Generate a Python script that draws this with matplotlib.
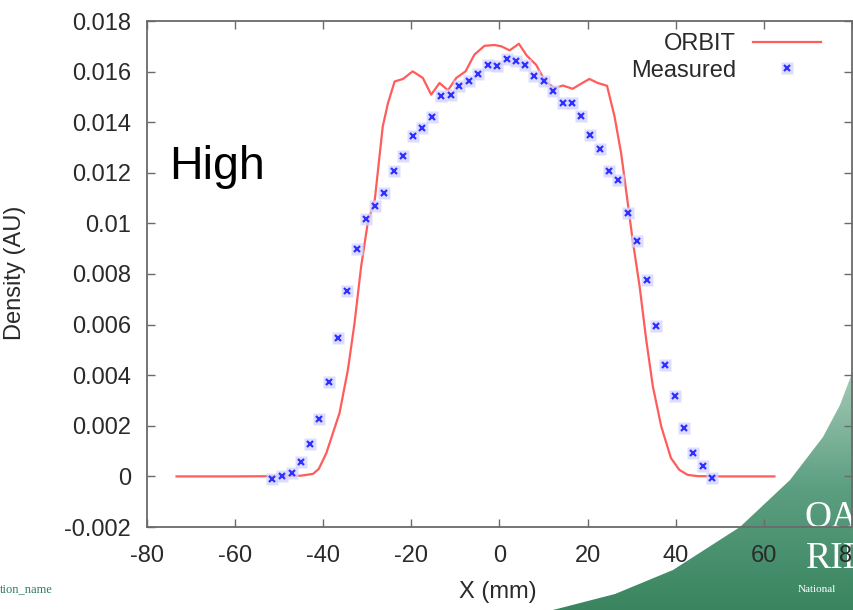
import numpy as np
import matplotlib
matplotlib.use("Agg")
import matplotlib.pyplot as plt
from matplotlib.patches import Polygon

plt.rcParams['font.family'] = ['Liberation Sans', 'DejaVu Sans']
plt.rcParams['axes.unicode_minus'] = False

# ORBIT simulation profile (x in mm, density in AU)
orbit_x = [-73.3, -60.0, -50.0, -45.0, -42.3, -41.0, -39.3, -36.3, -34.4, -32.9,
           -31.4, -29.9, -28.3, -26.5, -25.3, -23.8, -21.9, -19.7, -17.4, -15.5,
           -13.6, -11.7, -9.8, -7.7, -5.7, -3.4, -1.1, 0.4, 2.3, 4.4,
           6.2, 8.3, 10.4, 12.5, 14.4, 16.6, 18.5, 20.4, 22.3, 24.4,
           26.1, 27.6, 29.1, 30.2, 31.8, 33.3, 34.8, 36.7, 38.9, 40.8,
           42.7, 45.0, 50.0, 62.4]
orbit_y = [0.0, 0.0, 0.00001, 0.00003, 0.0001, 0.0003, 0.00092, 0.00251, 0.00422, 0.00606,
           0.0083, 0.01002, 0.01094, 0.01383, 0.01476, 0.01561, 0.01571, 0.01601, 0.01575, 0.01509,
           0.01555, 0.01526, 0.01575, 0.01601, 0.01667, 0.01702, 0.01705, 0.017, 0.01684, 0.0171,
           0.01663, 0.01627, 0.01561, 0.01535, 0.01545, 0.01532, 0.01552, 0.01571, 0.01555, 0.01544,
           0.01423, 0.01278, 0.01082, 0.00936, 0.00751, 0.0054, 0.00356, 0.00198, 0.00073, 0.00026,
           0.00006, 0.00001, 0.0, 0.0]

# measured profile
meas_x = [-51.6, -49.3, -47.2, -45.1, -43.1, -40.9, -38.8, -36.7, -34.5, -32.4,
          -30.3, -28.2, -26.1, -24.0, -21.8, -19.7, -17.5, -15.4, -13.3, -11.1,
          -9.1, -6.9, -4.8, -2.7, -0.5, 1.6, 3.7, 5.8, 7.9, 10.1,
          12.2, 14.3, 16.4, 18.5, 20.6, 22.7, 24.9, 27.0, 29.2, 31.3,
          33.4, 35.5, 37.6, 39.8, 41.9, 44.0, 46.1, 48.2]
meas_y = [-0.0001, 0.0, 0.00013, 0.00058, 0.00128, 0.00228, 0.00375, 0.00549, 0.00731, 0.009,
          0.01019, 0.01067, 0.01121, 0.01206, 0.01265, 0.01344, 0.01379, 0.01422, 0.01505, 0.01508,
          0.01542, 0.01561, 0.01592, 0.01627, 0.01623, 0.01648, 0.0164, 0.01627, 0.01584, 0.01561,
          0.01523, 0.01474, 0.01474, 0.01424, 0.01348, 0.01294, 0.01208, 0.01173, 0.0104, 0.00932,
          0.00775, 0.00593, 0.00439, 0.00316, 0.0019, 0.00093, 0.0004, -0.00006]

x_ticks = [-80, -60, -40, -20, 0, 20, 40, 60, 80]
y_ticks = [-0.002, 0, 0.002, 0.004, 0.006, 0.008, 0.01, 0.012, 0.014, 0.016, 0.018]
y_tick_labels = ['-0.002', '0', '0.002', '0.004', '0.006', '0.008', '0.01',
                 '0.012', '0.014', '0.016', '0.018']

W, H = 854, 610
fig = plt.figure(figsize=(W / 100, H / 100), dpi=100, facecolor='white')

# slide background: green corner wedge with logo text
bg = fig.add_axes([0, 0, 1, 1], zorder=0)
bg.set_xlim(0, W)
bg.set_ylim(H, 0)
bg.axis('off')
wedge = Polygon([(553, 610), (615, 594), (673, 570), (740, 527), (790, 480),
                 (823, 437), (840, 405), (854, 368), (854, 610)],
                closed=True, facecolor='none', edgecolor='none')
bg.add_patch(wedge)
grad = np.linspace(0, 1, 100).reshape(-1, 1)
cmap = matplotlib.colors.LinearSegmentedColormap.from_list('g', ['#a9ccb9', '#5c9f80', '#3a8560'])
im = bg.imshow(grad, cmap=cmap, extent=[540, 854, 610, 365], aspect='auto', zorder=1)
im.set_clip_path(wedge)
serif = ['Liberation Serif', 'DejaVu Serif']
bg.text(805, 527, 'OAK', color='white', fontsize=27, family=serif, ha='left', va='baseline', zorder=2)
bg.text(806, 568, 'RIDGE', color='white', fontsize=27, family=serif, ha='left', va='baseline', zorder=2)
bg.text(798, 592, 'National', color='white', fontsize=8, family=serif, ha='left', va='baseline', zorder=2)
bg.text(0, 592, 'tion_name', color='#2f7d5a', fontsize=9, family=serif, ha='left', va='baseline', zorder=2)

# main chart
ax = fig.add_axes([147 / W, 1 - 527 / H, 705 / W, 506 / H], zorder=2)
ax.set_facecolor('none')

line, = ax.plot(orbit_x, orbit_y, color='#ff5c5c', lw=1.6, zorder=3)
halo, = ax.plot(meas_x, meas_y, ls='none', marker='s', ms=8, color='#d4d5ff', alpha=0.8, mec='none', zorder=4)
pts, = ax.plot(meas_x, meas_y, ls='none', marker='x', ms=4.5, mew=1.6, color='#3030ff', zorder=5)

ax.set_xlim(-80, 80)
ax.set_ylim(-0.002, 0.018)
ax.set_xticks(x_ticks)
ax.set_yticks(y_ticks)
ax.set_yticklabels(y_tick_labels)

for sp in ax.spines.values():
    sp.set_color('#6a6a6a')
    sp.set_linewidth(1.3)
ax.tick_params(axis='both', direction='in', length=6, width=1, color='#6a6a6a',
               labelsize=17, labelcolor='#2a2a2a', top=True, right=True)
ax.tick_params(axis='y', pad=11.5)
ax.tick_params(axis='x', pad=13)

ax.text((169 - 147) / 705, (527 - 179) / 506, 'High', transform=ax.transAxes,
        fontsize=33.5, color='black', ha='left', va='baseline')

leg = ax.legend([line, (halo, pts)], ['ORBIT', 'Measured'], loc='upper right',
                bbox_to_anchor=((821 - 147) / 705, (527 - 33.5) / 506), borderaxespad=0,
                borderpad=0, frameon=False, markerfirst=False, fontsize=17,
                handlelength=2.9, handletextpad=0.7, labelspacing=0.17)
for t in leg.get_texts():
    t.set_color('#2a2a2a')

fig.text(15.5 / W, 1 - 273 / H, 'Density (AU)', rotation=90, fontsize=17, color='#2a2a2a',
         ha='center', va='center')
fig.text(498 / W, 1 - 592 / H, 'X (mm)', fontsize=17, color='#2a2a2a', ha='center', va='center')

fig.savefig('out.png', dpi=100, facecolor='white')
